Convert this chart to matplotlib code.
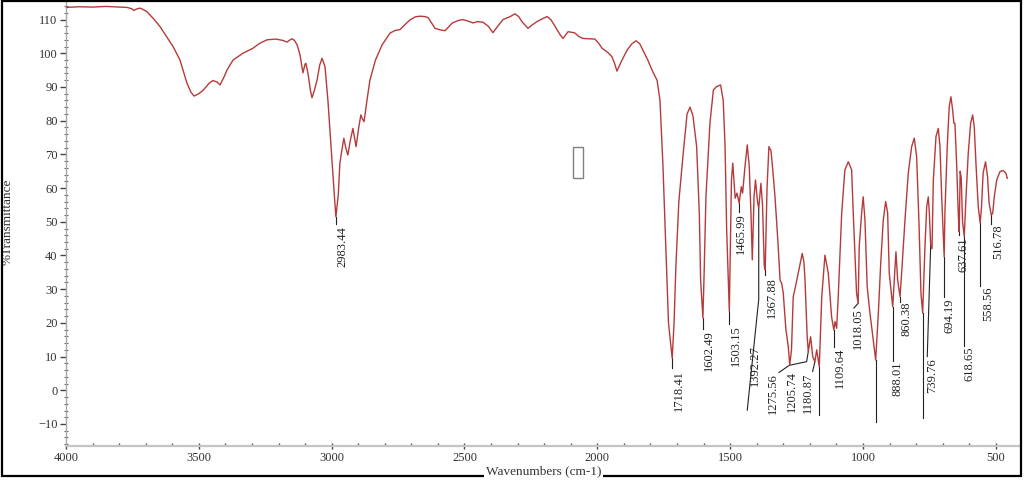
import matplotlib
matplotlib.use("Agg")
import matplotlib.pyplot as plt
from matplotlib.patches import Rectangle
from matplotlib.ticker import MultipleLocator

# ---------------- data ----------------
wavenumber = [
    4000, 3950, 3900, 3850, 3800, 3770, 3752, 3745, 3735, 3722, 3710, 3695, 3670, 3646,
    3620, 3597, 3571, 3545, 3530, 3518, 3500, 3484, 3460, 3447, 3432, 3420, 3405, 3394,
    3371, 3334, 3296, 3270, 3243, 3210, 3183, 3168, 3160, 3149, 3140, 3130, 3119, 3108,
    3100, 3097, 3089, 3080, 3074, 3065, 3055, 3045, 3036, 3025, 3014, 2999, 2990, 2984,
    2975, 2969, 2960, 2954, 2947, 2939, 2930, 2920, 2914, 2908, 2898, 2890, 2884, 2878,
    2868, 2856, 2835, 2810, 2780, 2760, 2743, 2720, 2705, 2685, 2668, 2650, 2637, 2620,
    2611, 2590, 2573, 2560, 2547, 2525, 2506, 2485, 2468, 2450, 2430, 2410, 2393, 2375,
    2355, 2330, 2310, 2295, 2284, 2261, 2245, 2227, 2205, 2189, 2175, 2159, 2140, 2129,
    2110, 2095, 2084, 2070, 2054, 2030, 2009, 1995, 1982, 1960, 1945, 1935, 1926, 1910,
    1888, 1870, 1854, 1840, 1828, 1810, 1794, 1775, 1764, 1753, 1742, 1732, 1718, 1711,
    1704, 1693, 1677, 1662, 1651, 1640, 1626, 1616, 1611, 1602.5, 1598.5, 1591, 1576,
    1563, 1551, 1536, 1526, 1519, 1513, 1503, 1499, 1495, 1490, 1485.5, 1481, 1474, 1466,
    1458, 1453, 1444, 1435.5, 1428, 1421.5, 1416.5, 1410, 1404.5, 1397, 1392.3, 1384,
    1378, 1371.5, 1368, 1361, 1354, 1346, 1339, 1331, 1320, 1312, 1306, 1300, 1290, 1281,
    1275.6, 1269, 1262.4, 1256, 1243.6, 1228.5, 1222, 1218, 1210, 1205.7, 1197, 1189,
    1181, 1174, 1164.4, 1155, 1143, 1130.5, 1118, 1109.6, 1105, 1099, 1093, 1080, 1068,
    1055, 1042.5, 1036.5, 1024, 1018, 1014, 1005, 999, 992.4, 984, 973.6, 961, 952, 942,
    933, 923.5, 914.5, 907, 901, 888, 881, 875.7, 869.3, 860.4, 854.3, 841.8, 829.4,
    816.6, 806.8, 797.8, 789, 781.6, 775.2, 766.5, 760, 754, 750, 745, 740, 735, 725,
    716.4, 710, 703.6, 694.2, 691.4, 682.7, 675.2, 668.8, 662.4, 657.5, 653.7, 647.4,
    641, 637.6, 634, 630, 625, 618.65, 612, 603.6, 594.6, 587, 581, 574.6, 566, 558.6,
    553.6, 547.6, 538.6, 531, 525, 516.8, 511.6, 505.6, 496.5, 484, 472, 461.6, 456.7,
]
transmittance = [
    113.6, 113.8, 113.7, 113.9, 113.7, 113.6, 113.2, 112.7, 113.1, 113.4, 113.0, 112.3, 110.2, 107.9,
    104.8, 102.0, 98.0, 91.2, 88.5, 87.3, 88.0, 89.0, 91.2, 91.9, 91.5, 90.6, 93.0, 95.0,
    98.0, 100.0, 101.5, 103.0, 104.0, 104.2, 103.8, 103.3, 103.8, 104.3, 103.8, 102.5, 99.5, 94.2,
    96.8, 97.0, 94.0, 89.0, 86.8, 89.0, 92.0, 96.5, 98.5, 96.0, 86.0, 68.3, 58.0, 51.5,
    58.0, 67.4, 72.0, 74.8, 72.0, 69.8, 74.0, 77.7, 75.0, 72.3, 78.0, 81.7, 80.5, 79.7,
    85.5, 92.0, 98.0, 102.5, 106.0, 106.8, 107.0, 108.8, 109.9, 110.8, 111.0, 110.9, 110.6, 108.5,
    107.4, 106.9, 106.7, 107.8, 108.9, 109.7, 110.0, 109.5, 109.0, 109.4, 109.2, 108.0, 106.1, 108.0,
    110.0, 110.8, 111.7, 110.8, 109.4, 107.4, 108.4, 109.4, 110.3, 110.9, 110.0, 108.0, 105.5, 104.4,
    106.4, 106.2, 106.0, 105.0, 104.4, 104.3, 104.2, 103.0, 101.5, 100.2, 99.0, 97.0, 94.7, 97.5,
    100.9, 102.8, 103.7, 102.8, 100.9, 98.0, 95.0, 92.0, 86.0, 67.0, 42.0, 20.0, 9.5, 20.0,
    37.0, 56.0, 70.0, 82.0, 84.0, 81.5, 72.3, 52.5, 32.7, 21.5, 32.7, 57.4, 79.2,
    89.1, 90.1, 90.6, 86.1, 72.3, 47.6, 23.5, 42.6, 62.4, 67.4, 62.4, 57.0, 58.5, 55.5,
    60.4, 58.5, 66.4, 72.8, 66.4, 52.5, 38.7, 57.4, 62.4, 56.0, 54.0, 61.4,
    55.0, 37.0, 35.7, 60.0, 72.3, 71.0, 65.0, 57.4, 44.0, 32.7, 31.7, 28.9, 18.0, 12.9,
    7.5, 12.0, 27.8, 30.0, 34.8, 40.6, 38.0, 32.7, 16.0, 11.5, 15.9, 10.0,
    8.5, 12.0, 7.0, 27.8, 40.1, 34.8, 21.8, 17.9, 20.4, 18.4, 27.8, 52.5, 65.4,
    67.8, 65.4, 52.6, 28.8, 25.8, 42.6, 52.6, 57.4, 50.5, 30.7, 22.9, 14.9, 9.0, 22.9,
    37.8, 50.5, 56.0, 52.6, 34.8, 24.8, 34.0, 41.1, 32.7, 27.8, 34.8, 50.5, 64.4,
    72.3, 74.8, 69.3, 49.6, 28.8, 22.9, 42.6, 54.5, 57.4, 52.6, 43.0, 42.0, 62.4, 75.3,
    77.7, 72.3, 57.4, 39.6, 52.6, 72.3, 84.2, 87.1, 83.2, 79.2, 79.2, 67.4,
    52.0, 47.0, 65.0, 63.0, 50.0, 45.6, 57.4, 70.3, 79.2, 81.7, 78.2, 67.4, 54.5, 49.6,
    54.5, 64.4, 67.8, 63.4, 55.5, 52.0, 52.5, 57.4, 62.4, 64.9, 65.2, 64.4, 62.9,
]

peak_labels = ["2983.44", "1718.41", "1602.49", "1503.15", "1465.99", "1392.27",
               "1367.88", "1275.56", "1205.74", "1180.87", "1109.64", "1018.05",
               "888.01", "860.38", "739.76", "694.19", "637.61", "618.65",
               "558.56", "516.78"]

# ---------------- annotation layout (label text anchor + leader polylines) ----------------
label_text_pos = {
    "2983.44": (2959.0, 48.6), "1718.41": (1692.5, 6.0), "1602.49": (1579.6, 17.9),
    "1503.15": (1478.0, 19.4), "1465.99": (1459.0, 52.6), "1392.27": (1406.5, 13.4),
    "1367.88": (1343.6, 33.7), "1275.56": (1338.7, 5.0), "1205.74": (1267.2, 5.6),
    "1180.87": (1206.8, 5.1), "1109.64": (1086.5, 12.6), "1018.05": (1018.7, 24.4),
    "888.01": (868.2, 8.4), "860.38": (834.3, 26.2), "739.76": (740.2, 9.6),
    "694.19": (672.4, 27.3), "637.61": (619.7, 45.5), "618.65": (597.2, 12.9),
    "558.56": (529.4, 30.7), "516.78": (491.8, 49.1),
}
leader_lines = [
    [(2984, 51.5), (2984, 49.3)],
    [(1718.41, 9.5), (1718.41, 6.6)],
    [(1602.49, 21.5), (1602.49, 18.3)],
    [(1503.15, 23.5), (1503.15, 19.8)],
    [(1466, 55.5), (1466, 53.0)],
    [(1392.27, 54.0), (1392.27, 27.0), (1435.5, -5.9)],
    [(1367.88, 35.7), (1367.88, 34.3)],
    [(1275.56, 7.5), (1316, 5.3)],
    [(1205.74, 11.5), (1212.0, 8.5), (1272, 7.5)],
    [(1180.87, 8.5), (1189.3, 5.6)],
    [(1164.4, 7.0), (1164.4, -7.3)],
    [(1109.64, 17.9), (1109.64, 12.8)],
    [(1018.05, 25.8), (1034, 24.4)],
    [(952, 9.0), (952, -9.3)],
    [(888.01, 24.8), (888.01, 8.6)],
    [(860.38, 27.8), (860.38, 26.3)],
    [(775.2, 22.9), (775.2, -8.3)],
    [(745, 43.0), (757.9, 10.0)],
    [(694.19, 39.6), (694.19, 27.6)],
    [(637.61, 47.0), (637.61, 46.0)],
    [(618.65, 45.6), (618.65, 13.0)],
    [(558.56, 49.6), (558.56, 31.0)],
    [(516.78, 52.0), (516.78, 49.4)],
]

x_ticks = [4000, 3500, 3000, 2500, 2000, 1500, 1000, 500]
y_ticks = [-10, 0, 10, 20, 30, 40, 50, 60, 70, 80, 90, 100, 110]

# ---------------- figure ----------------
W, H = 1024, 480
FONT = ["Liberation Serif", "DejaVu Serif"]
plt.rcParams["font.family"] = FONT

fig = plt.figure(figsize=(W / 100, H / 100), dpi=100)
fig.patch.set_facecolor("white")
ax = fig.add_axes([66 / W, 1 - 446 / H, (1021 - 66) / W, (446 - 1.7) / H])
ax.set_xlim(4000, 405)
ax.set_ylim(-16.53, 115.3)

ax.plot(wavenumber, transmittance, color="#b63a3a", lw=1.0, zorder=3)

for line in leader_lines:
    xs = [p[0] for p in line]
    ys = [p[1] for p in line]
    ax.plot(xs, ys, color="#222222", lw=0.8, zorder=2)

for lab in peak_labels:
    x, y = label_text_pos[lab]
    ax.text(x, y, lab, rotation=90, ha="center", va="top", fontsize=9,
            color="#222222", zorder=4)

# spines / ticks
for s in ("top", "right"):
    ax.spines[s].set_visible(False)
ax.spines["left"].set_color("#a8a8a8")
ax.spines["left"].set_linewidth(1.0)
ax.spines["bottom"].set_color("#c4c4c4")
ax.spines["bottom"].set_linewidth(1.6)

ax.set_xticks(x_ticks)
ax.set_yticks(y_ticks)
ax.xaxis.set_minor_locator(MultipleLocator(100))
ax.yaxis.set_minor_locator(MultipleLocator(2))
ax.tick_params(axis="x", which="major", direction="inout", length=5, width=1,
               color="#444444", labelsize=9, labelcolor="#333333", pad=2)
ax.tick_params(axis="x", which="minor", direction="in", length=2.5, width=1,
               color="#555555")
ax.tick_params(axis="y", which="major", direction="out", length=4, width=1,
               color="#444444", labelsize=9, labelcolor="#333333", pad=2)
ax.tick_params(axis="y", which="minor", direction="inout", length=2.5, width=0.8,
               color="#666666")

# placeholder glyph box seen in the reference
fig.patches.append(Rectangle((573 / W, 1 - 178 / H), 10 / W, 31 / H,
                             transform=fig.transFigure, fill=False,
                             ec="#808080", lw=1.0))

# outer frame
fig.patches.append(Rectangle((2 / W, 4 / H), 1019 / W, 475 / H,
                             transform=fig.transFigure, fill=False,
                             ec="black", lw=1.6, zorder=10))

fig.text(8 / W, 1 - 222 / H, "%Transmittance", rotation=90, ha="center",
         va="center", fontsize=9.5, color="#333333")
fig.text(543.5 / W, 1 - 471.5 / H, "Wavenumbers (cm-1)", ha="center",
         va="center", fontsize=9.5, color="#333333", zorder=11,
         bbox=dict(facecolor="white", edgecolor="none", pad=1.0))

fig.savefig("out.png", dpi=100, facecolor="white")
